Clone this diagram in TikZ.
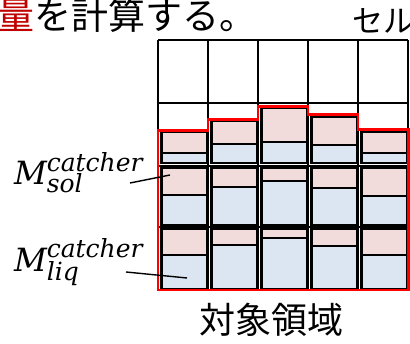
\documentclass[tikz,border=0pt]{standalone}
\usepackage{fontspec}
\newfontfamily\jp{Noto Sans CJK JP}
\newfontfamily\dvserif{DejaVu Serif}
\definecolor{pinkc}{HTML}{F2DCDB}
\definecolor{bluec}{HTML}{DCE6F2}
\definecolor{darkredc}{HTML}{C00000}
\newcommand{\lblfont}{\dvserif\itshape\fontsize{32}{32}\selectfont}
\newcommand{\scfont}{\dvserif\itshape\fontsize{25}{25}\selectfont}
\begin{document}
\begin{tikzpicture}[x=1pt,y=-1pt,
  gridline/.style={black,line width=1.6pt},
  cellbox/.style={draw=black,line width=2.2pt},
  outline/.style={red,line width=2.4pt,line join=miter},
  leader/.style={black,line width=1.4pt},
  txt/.style={inner sep=0pt,outer sep=0pt}]
\useasboundingbox (0,0) rectangle (410,344);
% grid
\foreach \yy in {40,103,166,227,290} \draw[gridline] (158,\yy) -- (408,\yy);
\foreach \xx in {158,208,258,308,358,408} \draw[gridline] (\xx,40) -- (\xx,290);
% boxes
\foreach \x/\t/\a/\b/\c in {158/132/153/195/255, 208/121/144/187/245, 258/107.5/142/181/238, 308/117/145/188/246, 358/132/153/196/255}{
  \draw[cellbox,fill=pinkc] (\x+3.5,\t) rectangle (\x+49,\a);
  \draw[cellbox,fill=bluec] (\x+3.5,\a) rectangle (\x+49,163);
  \draw[cellbox,fill=pinkc] (\x+3.5,168) rectangle (\x+49,\b);
  \draw[cellbox,fill=bluec] (\x+3.5,\b) rectangle (\x+49,225);
  \draw[cellbox,fill=pinkc] (\x+3.5,229) rectangle (\x+49,\c);
  \draw[cellbox,fill=bluec] (\x+3.5,\c) rectangle (\x+49,289);
}
% red outline
\draw[outline] (158,290) -- (158,130.5) -- (208,130.5) -- (208,119.5) -- (258,119.5) -- (258,106.5)
  -- (308,106.5) -- (308,114.5) -- (358,114.5) -- (358,129.5) -- (408.5,129.5) -- (408.5,290) -- cycle;
% texts
\node[txt,anchor=base west] (title) at (-2,30) {\jp\fontsize{37}{37}\selectfont\textcolor{darkredc}{量}を計算する。};
\node[txt,anchor=base west] (cell) at (352,33) {\jp\fontsize{31}{31}\selectfont セル};
\node[txt,anchor=base] (region) at (271,334) {\jp\fontsize{36}{36}\selectfont 対象領域};
\node[txt,anchor=base west] (msol) at (14,185) {\lblfont M\rlap{\raisebox{13pt}{\scfont catcher}}\raisebox{-8pt}{\scfont sol}};
\node[txt,anchor=base west] (mliq) at (14,272) {\lblfont M\rlap{\raisebox{14pt}{\scfont catcher}}\raisebox{-9pt}{\scfont liq}};
% leaders
\coordinate (solA) at (130,183);
\coordinate (solB) at (170,175);
\coordinate (liqA) at (126,272);
\coordinate (liqB) at (187,278);
\draw[leader] (solA) -- (solB);
\draw[leader] (liqA) -- (liqB);
\end{tikzpicture}
\end{document}
